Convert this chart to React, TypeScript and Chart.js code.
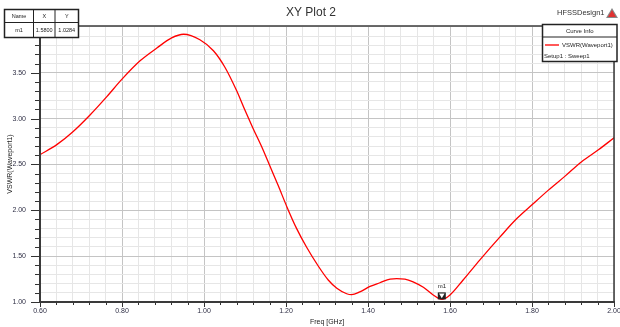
import React, { useEffect, useRef } from "react";
import { Chart, registerables } from "chart.js";
Chart.register(...registerables);

// ---- data ----
const freqGHz = [
  0.6, 0.641, 0.681, 0.722, 0.763, 0.8, 0.844, 0.885, 0.921, 0.95, 0.99, 1.023,
  1.051, 1.08, 1.1, 1.12, 1.141, 1.161, 1.181, 1.202, 1.226, 1.25, 1.279, 1.303,
  1.324, 1.348, 1.36, 1.38, 1.405, 1.429, 1.454, 1.47, 1.49, 1.51, 1.535, 1.559,
  1.58, 1.6, 1.632, 1.673, 1.722, 1.763, 1.8, 1.84, 1.88, 1.921, 1.962, 2.0,
];
const vswr = [
  2.607, 2.716, 2.86, 3.04, 3.24, 3.43, 3.63, 3.77, 3.88, 3.92, 3.86, 3.74,
  3.56, 3.3, 3.09, 2.89, 2.69, 2.48, 2.27, 2.04, 1.8, 1.6, 1.39, 1.24,
  1.15, 1.09, 1.08, 1.11, 1.17, 1.21, 1.25, 1.255, 1.25, 1.22, 1.16, 1.077,
  1.028, 1.077, 1.24, 1.46, 1.71, 1.91, 2.06, 2.22, 2.37, 2.53, 2.66, 2.79,
];
const xMajorTicks = [0.6, 0.8, 1.0, 1.2, 1.4, 1.6, 1.8, 2.0];
const yMajorTicks = [1.0, 1.5, 2.0, 2.5, 3.0, 3.5];
const xMinorStep = 0.04;
const yMinorStep = 0.1;
const xRange = [0.6, 2.0];
const yRange = [1.0, 4.01];
const markerName = "m1";
const markerX = 1.58;
const markerY = 1.0284;
const plotTitle = "XY Plot 2";
const designName = "HFSSDesign1";
const seriesName = "VSWR(Waveport1)";
const setupName = "Setup1 : Sweep1";
const xTitle = "Freq [GHz]";
const yTitle = "VSWR(Waveport1)";

const FONT = "'Liberation Sans', Arial, sans-serif";

const buildTicks = (lo: number, hi: number, step: number) => {
  const out: number[] = [];
  const n = Math.floor((hi - lo) / step + 1e-6);
  for (let i = 0; i <= n; i++) out.push(Math.round((lo + i * step) * 1000) / 1000);
  return out;
};
const xTicks = buildTicks(xRange[0], xRange[1], xMinorStep);
const yTicks = buildTicks(yRange[0], 4.0, yMinorStep);
const near = (a: number, b: number) => Math.abs(a - b) < 1e-6;
const isMajorX = (v: number) => xMajorTicks.some((m) => near(m, v));
const isMajorY = (v: number) => yMajorTicks.some((m) => near(m, v));

const decor = {
  id: "decor",
  afterDraw(chart: any) {
    const ctx: CanvasRenderingContext2D = chart.ctx;
    const { left, right, top, bottom } = chart.chartArea;
    const xs = chart.scales.x;
    const ys = chart.scales.y;
    const line = (x1: number, y1: number, x2: number, y2: number) => {
      ctx.beginPath();
      ctx.moveTo(x1, y1);
      ctx.lineTo(x2, y2);
      ctx.stroke();
    };
    ctx.save();
    // tick marks
    ctx.strokeStyle = "#333";
    ctx.lineWidth = 1;
    xTicks.forEach((v) => {
      const px = Math.round(xs.getPixelForValue(v)) + 0.5;
      line(px, bottom, px, bottom + (isMajorX(v) ? 5 : 3));
    });
    yTicks.forEach((v) => {
      const py = Math.round(ys.getPixelForValue(v)) + 0.5;
      line(left - (isMajorY(v) ? 9 : 5), py, left, py);
    });
    // frame
    ctx.strokeStyle = "#3a3a3a";
    ctx.lineWidth = 1.5;
    line(left, top, right, top);
    line(right, top, right, bottom);
    ctx.lineWidth = 2;
    line(left, top, left, bottom);
    line(left - 1, bottom, right + 1, bottom);

    // marker
    const mx = xs.getPixelForValue(markerX);
    const my = ys.getPixelForValue(markerY);
    ctx.fillStyle = "#222";
    ctx.fillRect(mx - 4, my - 7, 8, 7);
    ctx.fillStyle = "#fff";
    ctx.beginPath();
    ctx.moveTo(mx - 2.8, my - 6);
    ctx.lineTo(mx + 2.8, my - 6);
    ctx.lineTo(mx, my - 1.2);
    ctx.closePath();
    ctx.fill();
    ctx.fillStyle = "#222";
    ctx.font = `6px ${FONT}`;
    ctx.textAlign = "center";
    ctx.textBaseline = "middle";
    ctx.fillText(markerName, mx, my - 13);

    // title
    ctx.fillStyle = "#333";
    ctx.font = `12px ${FONT}`;
    ctx.fillText(plotTitle, 311, 13);

    // design name + logo
    ctx.font = `7.5px ${FONT}`;
    ctx.textAlign = "left";
    ctx.fillStyle = "#333";
    ctx.fillText(designName, 557, 13);
    ctx.fillStyle = "#888";
    ctx.beginPath();
    ctx.moveTo(606, 18);
    ctx.lineTo(612, 8);
    ctx.lineTo(618, 18);
    ctx.closePath();
    ctx.fill();
    ctx.fillStyle = "#e03030";
    ctx.beginPath();
    ctx.moveTo(608, 17);
    ctx.lineTo(612, 10);
    ctx.lineTo(616, 17);
    ctx.closePath();
    ctx.fill();

    // marker table
    const tx0 = 4.5, tx1 = 33.5, tx2 = 55, tx3 = 78.5;
    const ty0 = 9.5, ty1 = 22.5, ty2 = 37.5;
    ctx.fillStyle = "#fff";
    ctx.fillRect(tx0, ty0, tx3 - tx0, ty2 - ty0);
    ctx.strokeStyle = "#222";
    ctx.lineWidth = 1.5;
    ctx.strokeRect(tx0, ty0, tx3 - tx0, ty2 - ty0);
    ctx.lineWidth = 1;
    line(tx0, ty1, tx3, ty1);
    line(tx1, ty0, tx1, ty2);
    line(tx2, ty0, tx2, ty2);
    ctx.fillStyle = "#222";
    ctx.font = `5.5px ${FONT}`;
    ctx.textAlign = "center";
    ctx.fillText("Name", (tx0 + tx1) / 2, 16);
    ctx.fillText("X", (tx1 + tx2) / 2, 16);
    ctx.fillText("Y", (tx2 + tx3) / 2, 16);
    ctx.fillText(markerName, (tx0 + tx1) / 2, 30);
    ctx.fillText(markerX.toFixed(4), (tx1 + tx2) / 2, 30);
    ctx.fillText(markerY.toFixed(4), (tx2 + tx3) / 2, 30);

    // legend box
    const lx0 = 542.5, lx1 = 617, ly0 = 24.5, ly1 = 61.5;
    ctx.fillStyle = "#fff";
    ctx.fillRect(lx0, ly0, lx1 - lx0, ly1 - ly0);
    ctx.strokeStyle = "#222";
    ctx.lineWidth = 1.5;
    ctx.strokeRect(lx0, ly0, lx1 - lx0, ly1 - ly0);
    ctx.lineWidth = 1;
    line(lx0, 37, lx1, 37);
    ctx.fillStyle = "#222";
    ctx.font = `6px ${FONT}`;
    ctx.textAlign = "center";
    ctx.fillText("Curve Info", (lx0 + lx1) / 2, 31);
    ctx.strokeStyle = "#ff2020";
    ctx.lineWidth = 1.5;
    line(545, 45, 559, 45);
    ctx.textAlign = "left";
    ctx.fillText(seriesName, 562, 45);
    ctx.fillText(setupName, 544, 56);
    ctx.restore();
  },
};

export default function App() {
  const ref = useRef<HTMLCanvasElement>(null);
  useEffect(() => {
    if (!ref.current) return;
    const points = freqGHz.map((f, i) => ({ x: f, y: vswr[i] }));
    const chart = new Chart(ref.current, {
      type: "line",
      data: {
        datasets: [
          {
            data: points,
            borderColor: "#ff0000",
            borderWidth: 1.3,
            pointRadius: 0,
            cubicInterpolationMode: "monotone",
            fill: false,
          },
        ],
      },
      options: {
        responsive: false,
        animation: false,
        devicePixelRatio: 1,
        layout: { padding: { top: 26, right: 6, left: 0, bottom: 0 } },
        plugins: { legend: { display: false }, tooltip: { enabled: false } },
        scales: {
          x: {
            type: "linear",
            min: xRange[0],
            max: xRange[1],
            afterBuildTicks: (s: any) => {
              s.ticks = xTicks.map((v) => ({ value: v }));
            },
            afterFit: (s: any) => {
              s.height = 25;
              s.paddingLeft = 0;
              s.paddingRight = 0;
            },
            border: { display: false },
            grid: {
              drawTicks: false,
              color: (c: any) => (isMajorX(c.tick?.value) ? "#c4c4c4" : "#e6e6e6"),
              lineWidth: 1,
            },
            ticks: {
              autoSkip: false,
              maxRotation: 0,
              padding: 5,
              color: "#2f2f45",
              font: { family: FONT, size: 7 },
              callback: (v: any) => (isMajorX(Number(v)) ? Number(v).toFixed(2) : ""),
            },
            title: {
              display: true,
              text: xTitle,
              color: "#222",
              font: { family: FONT, size: 7 },
              padding: { top: 0, bottom: 1 },
            },
          },
          y: {
            type: "linear",
            min: yRange[0],
            max: yRange[1],
            afterBuildTicks: (s: any) => {
              s.ticks = yTicks.map((v) => ({ value: v }));
            },
            afterFit: (s: any) => {
              s.width = 40;
            },
            border: { display: false },
            grid: {
              drawTicks: false,
              color: (c: any) => (isMajorY(c.tick?.value) ? "#c4c4c4" : "#e6e6e6"),
              lineWidth: 1,
            },
            ticks: {
              autoSkip: false,
              padding: 14,
              color: "#2f2f45",
              font: { family: FONT, size: 7 },
              callback: (v: any) => (isMajorY(Number(v)) ? Number(v).toFixed(2) : ""),
            },
            title: {
              display: true,
              text: yTitle,
              color: "#222",
              font: { family: FONT, size: 7 },
              padding: { top: 6, bottom: 0 },
            },
          },
        },
      },
      plugins: [decor],
    });
    return () => chart.destroy();
  }, []);
  return (
    <div style={{ position: "absolute", left: 0, top: 0, width: 620, height: 327, background: "#fff" }}>
      <canvas ref={ref} width={620} height={327} style={{ display: "block" }} />
    </div>
  );
}
